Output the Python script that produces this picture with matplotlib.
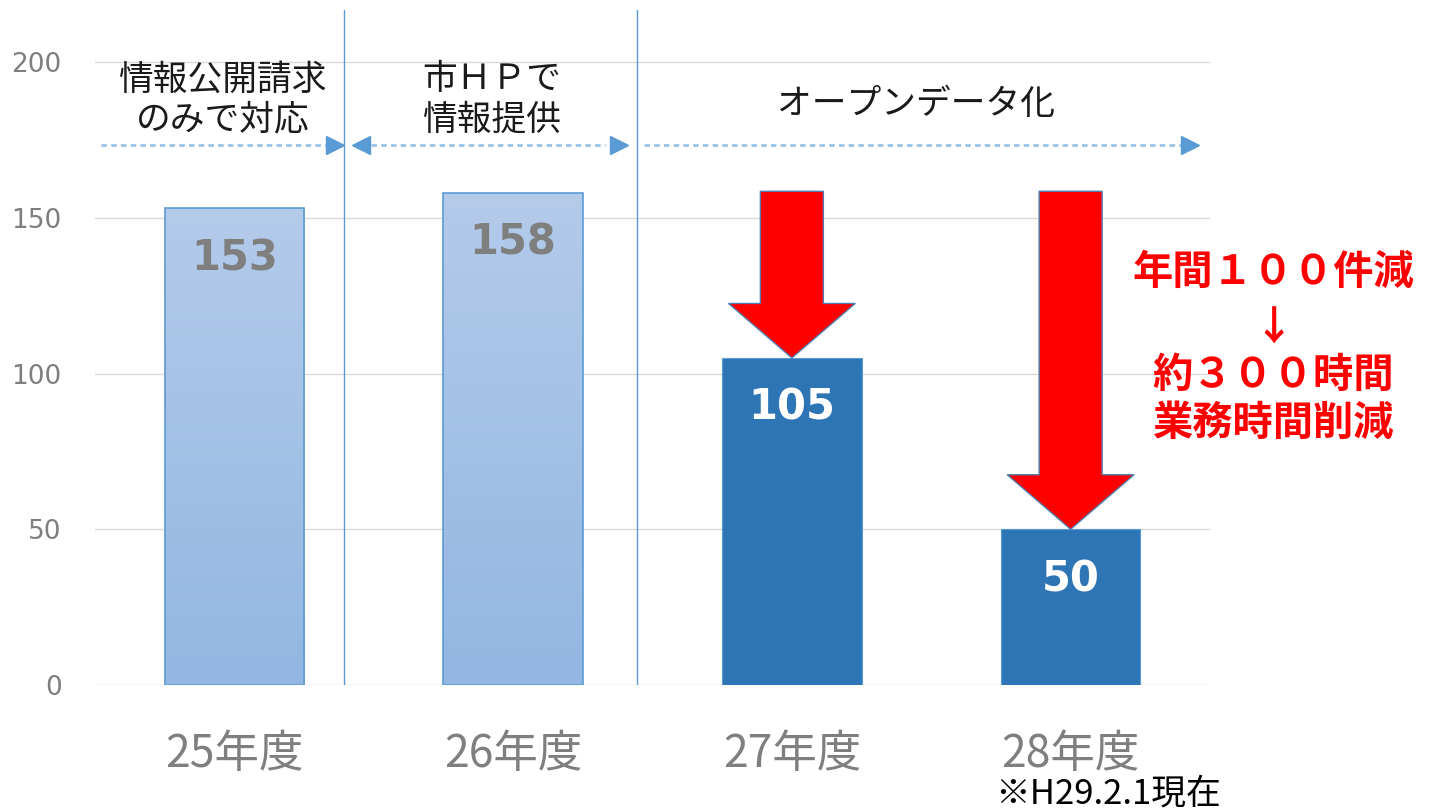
import numpy as np
import matplotlib.pyplot as plt
from matplotlib.patches import FancyArrow, Rectangle
from matplotlib.colors import LinearSegmentedColormap

# data
years = ['25年度', '26年度', '27年度', '28年度']
counts = [153, 158, 105, 50]
phases = ['情報公開請求\nのみで対応', '市ＨＰで\n情報提供', 'オープンデータ化']
note_lines = ['年間１００件減', '↓', '約３００時間', '業務時間削減']
as_of = '※H29.2.1現在'

plt.rcParams['font.family'] = ['Noto Sans CJK JP', 'DejaVu Sans']

fig = plt.figure(figsize=(14.35, 8.11), dpi=100)
ax = fig.add_axes([95 / 1435, 126 / 811, 1115 / 1435, 675 / 811])

x = np.arange(len(years))
bw = 0.5

# gradient bars for the first two years, solid for the open data years
grad = np.linspace(0, 1, 256).reshape(-1, 1)
light = LinearSegmentedColormap.from_list('lb', ['#93b6e2', '#b4cbea'])
for i, v in enumerate(counts):
    if i < 2:
        r = Rectangle((x[i] - bw / 2, 0), bw, v, facecolor='none', edgecolor='#5b9bd5', lw=1.2, zorder=3)
        ax.add_patch(r)
        im = ax.imshow(grad, extent=(x[i] - bw / 2, x[i] + bw / 2, 0, v), origin='lower',
                       cmap=light, aspect='auto', zorder=2)
        im.set_clip_path(r)
    else:
        ax.bar(x[i], v, bw, color='#2e75b6', edgecolor='#5b9bd5', lw=0.8, zorder=2)

ax.set_aspect('auto')
ax.set_xlim(-0.5, 3.5)
ax.set_ylim(0, 216.7)

for i, v in enumerate(counts):
    col = '#7f7f7f' if i < 2 else 'white'
    ax.text(x[i], v - 16, str(v), ha='center', va='center', fontsize=30, fontweight='bold',
            color=col, fontfamily='DejaVu Sans', zorder=5)

# red arrows from the 26年度 level down to each later value
top = max(counts[:2])
for i in (2, 3):
    a = FancyArrow(x[i], top + 0.5, 0, counts[i] - top - 0.5, width=0.226, head_width=0.455,
                   head_length=17.5, length_includes_head=True, facecolor='#ff0000',
                   edgecolor='#4f7fae', lw=1.0, zorder=6)
    ax.add_patch(a)

# grid / axes styling
ax.set_yticks([0, 50, 100, 150, 200])
ax.grid(axis='y', color='#d9d9d9', lw=1.0, zorder=0)
ax.set_axisbelow(True)
for s in ax.spines.values():
    s.set_visible(False)
ax.tick_params(axis='y', length=0, pad=24, labelsize=19, labelcolor='#7f7f7f',
               labelfontfamily='DejaVu Sans')
ax.set_xticks(x)
ax.set_xticklabels(years)
ax.tick_params(axis='x', length=0, pad=33, labelsize=32, labelcolor='#7f7f7f')

# phase separators
for sx in (0.394, 1.446):
    ax.axvline(sx, color='#5b9bd5', lw=1.0, zorder=1)

# dotted phase arrows
yarr = 173.4
dot = dict(color='#9dc3e6', lw=2, ls=(0, (2, 1.5)), zorder=3)
head = dict(color='#5b9bd5', ms=13, ls='none', zorder=4)
ax.plot([-0.48, 0.33], [yarr, yarr], **dot)
ax.plot([0.362], [yarr], marker='>', **head)
ax.plot([0.49, 1.33], [yarr, yarr], **dot)
ax.plot([0.455], [yarr], marker='<', **head)
ax.plot([1.381], [yarr], marker='>', **head)
ax.plot([1.47, 3.40], [yarr, yarr], **dot)
ax.plot([3.43], [yarr], marker='>', **head)

ax.text(-0.043, 187.8, phases[0], ha='center', va='center', fontsize=25, linespacing=1.2, color='#1a1a1a')
ax.text(0.924, 187.8, phases[1], ha='center', va='center', fontsize=25, linespacing=1.2, color='#1a1a1a')
ax.text(2.445, 186.5, phases[2], ha='center', va='center', fontsize=25, color='#1a1a1a')

for t, yy in zip(note_lines, (132.5, 114.3, 99.4, 84.0)):
    ax.text(3.727, yy, t, ha='center', va='center', fontsize=29, fontweight='bold',
            color='#ff0000', clip_on=False)

ax.text(3.135, -35.0, as_of, ha='center', va='center', fontsize=25, color='black', clip_on=False)

fig.savefig('out.png', dpi=100)
